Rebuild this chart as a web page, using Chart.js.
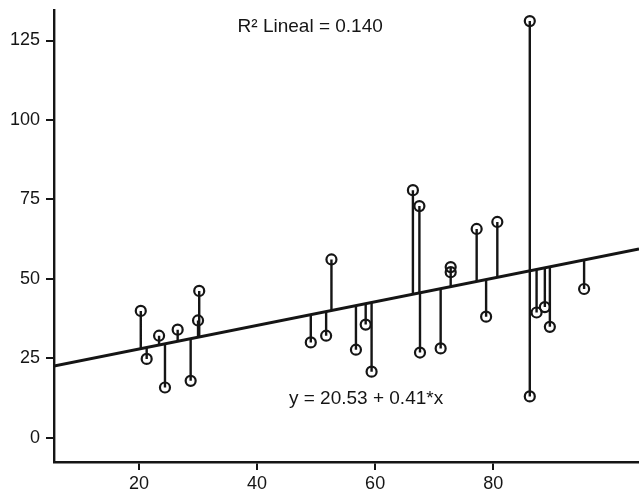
<!DOCTYPE html>
<html><head><meta charset="utf-8">
<script src="https://cdn.jsdelivr.net/npm/chart.js@4"></script>
<style>html,body{margin:0;padding:0;background:#fff}#wrap{width:639px;height:494px}</style>
</head><body><div id="wrap"><canvas id="c" width="639" height="494"></canvas></div>
<script>
// ---- data ----
const xValues = [20.3, 21.3, 23.4, 24.4, 26.55, 28.75, 30.0, 30.2, 49.1, 51.7, 52.6, 56.75, 58.4, 59.4, 66.4, 67.5, 67.6, 71.1, 72.8, 72.8, 77.2, 78.8, 80.7, 86.2, 86.2, 87.35, 88.75, 89.6, 95.4];
const yValues = [39.9, 24.8, 32.1, 15.8, 34.0, 17.9, 36.9, 46.2, 30.0, 32.1, 56.1, 27.7, 35.6, 20.8, 77.9, 72.9, 26.8, 28.1, 53.7, 52.1, 65.7, 38.1, 67.9, 131.1, 13.0, 39.4, 41.1, 34.9, 46.8];
const fitX = [5.6, 104.7];
const fitY = [22.6, 59.4];
const xTicks = [20, 40, 60, 80];
const yTicks = [0, 25, 50, 75, 100, 125];
const rSquaredLabel = 'R\u00B2 Lineal = 0.140';
const equationLabel = 'y = 20.53 + 0.41*x';

const FONT = "'Liberation Sans', Arial, Helvetica, sans-serif";
const INK = '#151515';

function fitAt(x) {
  return fitY[0] + (x - fitX[0]) * (fitY[1] - fitY[0]) / (fitX[1] - fitX[0]);
}
const points = xValues.map((x, i) => ({x: x, y: yValues[i]}));
const fitPoints = fitX.map((x, i) => ({x: x, y: fitY[i]}));
const residualPoints = [];
xValues.forEach((x, i) => {
  residualPoints.push({x: x, y: yValues[i]});
  residualPoints.push({x: x, y: fitAt(x)});
  residualPoints.push({x: x, y: null});
});

const textPlugin = {
  id: 'annotText',
  afterDatasetsDraw(chart) {
    const ctx = chart.ctx;
    const sx = chart.scales.x, sy = chart.scales.y;
    ctx.save();
    ctx.fillStyle = INK;
    ctx.font = '19px ' + FONT;
    ctx.textBaseline = 'alphabetic';
    ctx.textAlign = 'center';
    ctx.fillText(rSquaredLabel, sx.getPixelForValue(49.0), sy.getPixelForValue(127.7));
    ctx.textAlign = 'left';
    ctx.fillText(equationLabel, sx.getPixelForValue(45.4), sy.getPixelForValue(10.7));
    ctx.restore();
  }
};

new Chart(document.getElementById('c'), {
  type: 'scatter',
  data: {
    datasets: [
      {
        type: 'line', data: residualPoints, borderColor: INK, borderWidth: 2.4,
        pointRadius: 0, spanGaps: false, fill: false, order: 3
      },
      {
        type: 'line', data: fitPoints, borderColor: INK, borderWidth: 3,
        pointRadius: 0, fill: false, order: 2
      },
      {
        data: points, showLine: false, pointRadius: 5, pointHoverRadius: 5,
        pointBorderWidth: 2.2, pointBorderColor: INK,
        pointBackgroundColor: 'rgba(0,0,0,0)', order: 1
      }
    ]
  },
  options: {
    responsive: false,
    animation: false,
    events: [],
    layout: {autoPadding: false, padding: {top: 10, right: 0, left: 0, bottom: 0}},
    plugins: {legend: {display: false}, tooltip: {enabled: false}},
    scales: {
      x: {
        type: 'linear', min: 5.6, max: 104.7,
        afterBuildTicks: s => { s.ticks = xTicks.map(v => ({value: v})); },
        afterFit: s => { s.height = 32; s.paddingLeft = 0; s.paddingRight = 0; },
        grid: {drawOnChartArea: false, drawTicks: true, tickLength: 8, color: INK, lineWidth: 2},
        border: {color: INK, width: 2.4},
        ticks: {font: {size: 18, family: FONT}, color: INK, padding: 3, maxRotation: 0, autoSkip: false}
      },
      y: {
        type: 'linear', min: -7.64, max: 134.6,
        afterBuildTicks: s => { s.ticks = yTicks.map(v => ({value: v})); },
        afterFit: s => { s.width = 54; s.paddingTop = 0; s.paddingBottom = 0; },
        grid: {drawOnChartArea: false, drawTicks: true, tickLength: 8, color: INK, lineWidth: 2},
        border: {color: INK, width: 2.4},
        ticks: {font: {size: 18, family: FONT}, color: INK, padding: 6, autoSkip: false}
      }
    }
  },
  plugins: [textPlugin]
});
</script>
</body></html>
